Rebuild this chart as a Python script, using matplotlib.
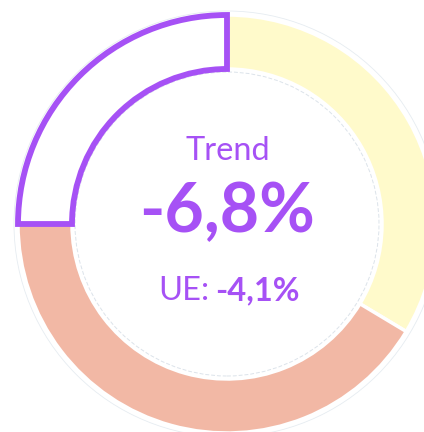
import matplotlib.pyplot as plt
from matplotlib.patches import Circle

# ------------ data -------------#
segments = ["Stabile", "Calo", "Trend"]
shares = [33.6, 41.4, 25.0]  # clockwise from 12 o'clock
seg_colors = ["#FFFACB", "#F2B8A5", "white"]

title_label = "Trend"
main_value = "-6,8%"
ue_label = "UE:"
ue_value = "-4,1%"

purple = "#A651F5"

# ------------ plotting -------------#
plt.rcParams["font.family"] = ["Lato", "DejaVu Sans"]

W, H = 424, 432
fig = plt.figure(figsize=(W / 100, H / 100), dpi=100)
ax = fig.add_axes([0, 0, 1, 1])

cx, cy = 227, H - 224
r_out, r_in = 209, 155

# faint guide circles
ax.add_patch(Circle((cx, cy), r_out + 4, fill=False, ec="#E6ECF1", lw=0.6, zorder=0))
ax.add_patch(Circle((cx, cy), r_in - 3, fill=False, ec="#DCE3EA", lw=0.7, ls=(0, (4, 2)), zorder=0))

wedges, _ = ax.pie(
    shares,
    colors=seg_colors,
    startangle=90,
    counterclock=False,
    radius=r_out,
    center=(cx, cy),
    frame=True,
    wedgeprops=dict(width=r_out - r_in, edgecolor="white", linewidth=2.5),
)
# highlighted trend segment
wedges[2].set_edgecolor(purple)
wedges[2].set_linewidth(4.2)
wedges[2].set_zorder(5)
wedges[2].set_joinstyle("miter")

ax.set_xlim(0, W)
ax.set_ylim(0, H)
ax.set_aspect("equal")
ax.axis("off")

ax.text(cx + 1, H - 160, title_label, color=purple, fontsize=23.5, ha="center", va="baseline")
ax.text(cx, H - 232, main_value, color=purple, fontsize=49, fontweight="bold", ha="center", va="baseline")
ax.text(cx - 18, H - 300, ue_label, color=purple, fontsize=23.5, ha="right", va="baseline")
ax.text(cx - 12, H - 300, ue_value, color=purple, fontsize=23.5, fontweight="bold", ha="left", va="baseline")

fig.savefig("out.png", dpi=100, facecolor="white")
